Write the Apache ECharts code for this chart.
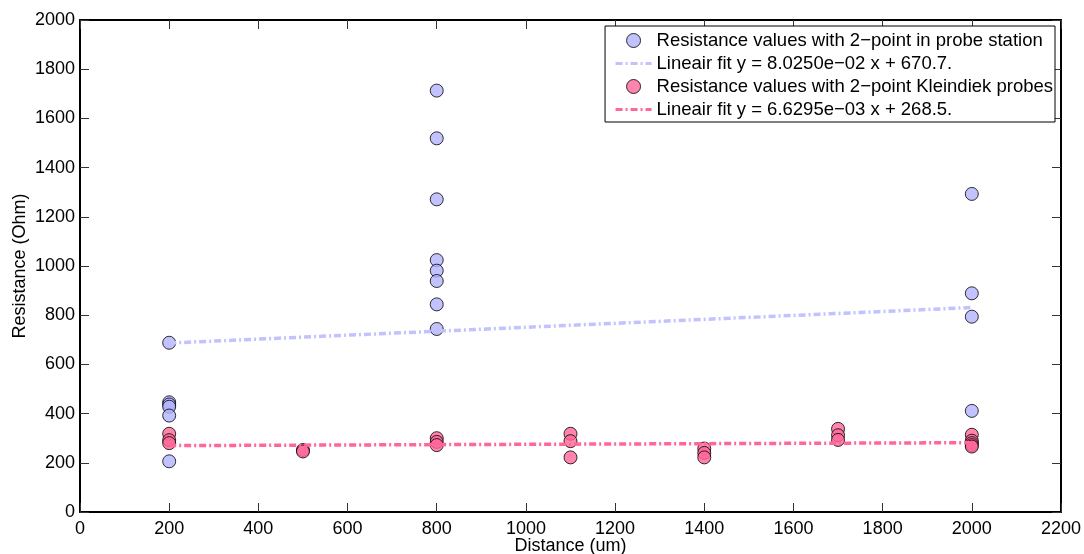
<!DOCTYPE html>
<html>
<head>
<meta charset="utf-8">
<script src="https://cdn.jsdelivr.net/npm/echarts@6/dist/echarts.min.js"></script>
<style>
  html, body { margin: 0; padding: 0; background: #fff; }
  #chart { width: 1084px; height: 554px; }
</style>
</head>
<body>
<div id="chart"></div>
<script>
// Two-point resistance measurements versus contact distance
const stationDistance = [200, 200, 200, 200, 200, 200,
  800, 800, 800, 800, 800, 800, 800, 800,
  2000, 2000, 2000, 2000];
const stationResistance = [688, 446, 437, 428, 392, 206,
  1713, 1519, 1271, 1024, 981, 939, 844, 744,
  1293, 889, 794, 411];

const kleindiekDistance = [200, 200, 200, 500, 500, 800, 800, 800,
  1100, 1100, 1100, 1400, 1400, 1400, 1700, 1700, 1700,
  2000, 2000, 2000, 2000, 2000];
const kleindiekResistance = [318, 292, 280, 252, 246, 300, 285, 272,
  318, 288, 222, 258, 240, 222, 338, 312, 293,
  314, 290, 280, 272, 266];

// Linear fit coefficients (slope, intercept) and fitted range
const stationFit = [8.0250e-02, 670.7];
const kleindiekFit = [6.6295e-03, 268.5];
const fitRange = [200, 2000];

const xTicks = { min: 0, max: 2200, interval: 200 };
const yTicks = { min: 0, max: 2000, interval: 200 };

const seriesNames = [
  'Resistance values with 2\u2212point in probe station',
  'Lineair fit y = 8.0250e\u221202 x + 670.7.',
  'Resistance values with 2\u2212point Kleindiek probes',
  'Lineair fit y = 6.6295e\u221203 x + 268.5.'
];

const blueFill = '#b3b3ff';
const redFill = '#ff6699';
const blueFit = '#c2c2ff';
const redFit = '#ff6699';
const fitDash = [7, 3, 2, 3];
const FONT = '"Liberation Sans", Arial, sans-serif';

function pairs(xs, ys) { return xs.map((x, i) => [x, ys[i]]); }
function fitLine(fit) { return fitRange.map(x => [x, fit[0] * x + fit[1]]); }

const chart = echarts.init(document.getElementById('chart'), null, { renderer: 'canvas' });

const tickStyle = { show: true, inside: true, length: 9, lineStyle: { color: '#333', width: 1 } };
const lineAxis = { show: true, onZero: false, lineStyle: { color: '#000', width: 2 } };
const plainNumber = v => String(v);

chart.setOption({
  animation: false,
  backgroundColor: '#fff',
  textStyle: { fontFamily: FONT },
  grid: { left: 80, top: 20, right: 23, bottom: 42, containLabel: false, outerBoundsMode: 'none' },
  legend: {
    orient: 'vertical',
    right: 29,
    top: 26,
    padding: [5, 2, 3, 9],
    itemGap: 4,
    itemWidth: 36,
    itemHeight: 14,
    borderColor: '#000',
    borderWidth: 1,
    backgroundColor: '#fff',
    textStyle: { fontFamily: FONT, fontSize: 18.5, color: '#000', lineHeight: 18 },
    data: [
      { name: seriesNames[0], icon: 'circle', itemStyle: { borderWidth: 1, borderColor: '#000' } },
      { name: seriesNames[1], itemStyle: { opacity: 0 }, lineStyle: { width: 3, color: blueFit, type: fitDash } },
      { name: seriesNames[2], icon: 'circle', itemStyle: { borderWidth: 1, borderColor: '#000' } },
      { name: seriesNames[3], itemStyle: { opacity: 0 }, lineStyle: { width: 3, color: redFit, type: fitDash } }
    ]
  },
  xAxis: [
    {
      type: 'value', position: 'bottom',
      min: xTicks.min, max: xTicks.max, interval: xTicks.interval,
      name: 'Distance (um)', nameLocation: 'middle', nameGap: 25, nameMoveOverlap: false,
      nameTextStyle: { fontFamily: FONT, fontSize: 18, color: '#000' },
      axisLine: lineAxis, axisTick: tickStyle,
      axisLabel: { fontFamily: FONT, fontSize: 18, color: '#000', margin: 8, formatter: plainNumber },
      splitLine: { show: false }
    },
    {
      type: 'value', position: 'top',
      min: xTicks.min, max: xTicks.max, interval: xTicks.interval,
      axisLine: lineAxis, axisTick: tickStyle,
      axisLabel: { show: false }, splitLine: { show: false }
    }
  ],
  yAxis: [
    {
      type: 'value', position: 'left',
      min: yTicks.min, max: yTicks.max, interval: yTicks.interval,
      name: 'Resistance (Ohm)', nameLocation: 'middle', nameGap: 51, nameMoveOverlap: false,
      nameTextStyle: { fontFamily: FONT, fontSize: 18, color: '#000' },
      axisLine: lineAxis, axisTick: tickStyle,
      axisLabel: { fontFamily: FONT, fontSize: 18, color: '#000', margin: 5, formatter: plainNumber },
      splitLine: { show: false }
    },
    {
      type: 'value', position: 'right',
      min: yTicks.min, max: yTicks.max, interval: yTicks.interval,
      axisLine: lineAxis, axisTick: tickStyle,
      axisLabel: { show: false }, splitLine: { show: false }
    }
  ],
  series: [
    {
      name: seriesNames[0], type: 'scatter',
      data: pairs(stationDistance, stationResistance),
      symbol: 'circle', symbolSize: 13,
      itemStyle: { color: blueFill, borderColor: '#000', borderWidth: 1 }
    },
    {
      name: seriesNames[1], type: 'line',
      data: fitLine(stationFit),
      symbol: 'none',
      lineStyle: { color: blueFit, width: 3.5, type: fitDash },
      itemStyle: { color: blueFit }
    },
    {
      name: seriesNames[2], type: 'scatter',
      data: pairs(kleindiekDistance, kleindiekResistance),
      symbol: 'circle', symbolSize: 13,
      itemStyle: { color: redFill, borderColor: '#000', borderWidth: 1 }
    },
    {
      name: seriesNames[3], type: 'line',
      data: fitLine(kleindiekFit),
      symbol: 'none',
      lineStyle: { color: redFit, width: 3.5, type: fitDash },
      itemStyle: { color: redFit }
    }
  ]
});
</script>
</body>
</html>
